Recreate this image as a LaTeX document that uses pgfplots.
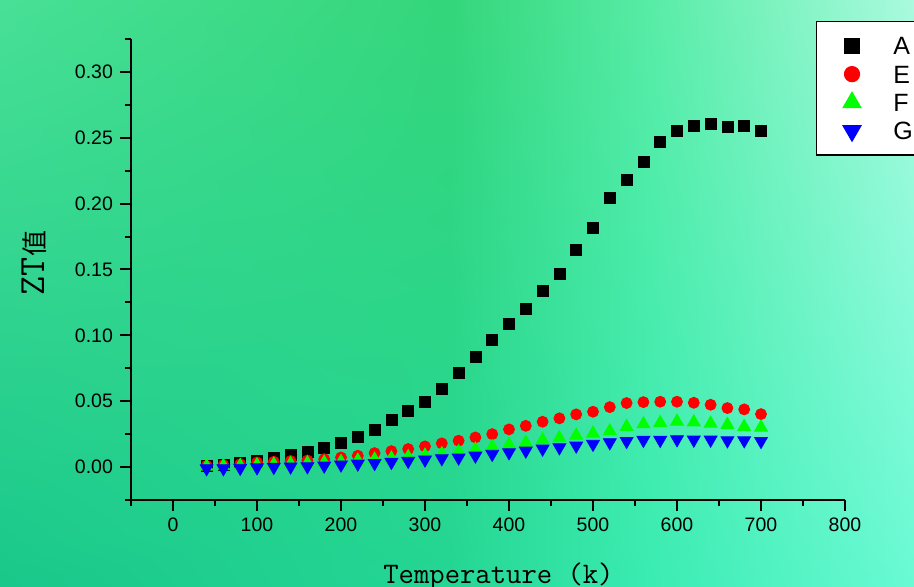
\documentclass[border=0pt]{standalone}
\usepackage{fontspec}
\setmainfont{Liberation Sans}
\newfontfamily\cjk{Noto Sans CJK SC}
\usepackage{pgfplots}
\usepackage{pgfplotstable}
\usetikzlibrary{shadings}
\pgfplotsset{compat=1.18}

\definecolor{bgUL}{RGB}{72,224,150}
\definecolor{bgUM}{RGB}{52,214,122}
\definecolor{bgUR1}{RGB}{88,236,166}
\definecolor{bgUR}{RGB}{170,250,222}
\definecolor{bgLL}{RGB}{25,200,138}
\definecolor{bgLM}{RGB}{36,214,148}
\definecolor{bgLR1}{RGB}{58,236,178}
\definecolor{bgLR}{RGB}{105,250,212}

\pgfplotstableread{
T   A       E       F       G
40  0.0010  0.0010  0.0005  -0.0010
60  0.0018  0.0015  0.0008  -0.0010
80  0.0030  0.0022  0.0010  -0.0007
100 0.0050  0.0035  0.0015  -0.0003
120 0.0066  0.0040  0.0020  0.0000
140 0.0089  0.0046  0.0025  0.0003
160 0.0116  0.0050  0.0030  0.0005
180 0.0147  0.0060  0.0035  0.0010
200 0.0187  0.0073  0.0040  0.0018
220 0.0230  0.0086  0.0050  0.0025
240 0.0283  0.0106  0.0058  0.0030
260 0.0359  0.0121  0.0067  0.0038
280 0.0425  0.0137  0.0077  0.0046
300 0.0496  0.0157  0.0088  0.0056
320 0.0592  0.0180  0.0100  0.0066
340 0.0718  0.0200  0.0115  0.0071
360 0.0840  0.0225  0.0134  0.0086
380 0.0962  0.0250  0.0154  0.0099
400 0.1085  0.0286  0.0170  0.0111
420 0.1198  0.0313  0.0185  0.0124
440 0.1334  0.0344  0.0205  0.0139
460 0.1466  0.0370  0.0220  0.0149
480 0.1649  0.0400  0.0240  0.0162
500 0.1818  0.0420  0.0255  0.0175
520 0.2045  0.0455  0.0273  0.0187
540 0.2178  0.0486  0.0306  0.0197
560 0.2320  0.0493  0.0326  0.0205
580 0.2470  0.0496  0.0336  0.0205
600 0.2550  0.0496  0.0346  0.0210
620 0.2590  0.0488  0.0341  0.0207
640 0.2608  0.0473  0.0331  0.0207
660 0.2580  0.0448  0.0321  0.0202
680 0.2590  0.0438  0.0306  0.0202
700 0.2550  0.0402  0.0301  0.0197
}\zt

\begin{document}
\begin{tikzpicture}
\useasboundingbox (0,0) rectangle (457pt,293.5pt);
\shade[upper left=bgUL, upper right=bgUM, lower left=bgLL, lower right=bgLM] (0,0) rectangle (225pt,293.5pt);
\shade[upper left=bgUM, upper right=bgUR1, lower left=bgLM, lower right=bgLR1] (225pt,0) rectangle (325pt,293.5pt);
\shade[upper left=bgUR1, upper right=bgUR, lower left=bgLR1, lower right=bgLR] (325pt,0) rectangle (457pt,293.5pt);
\clip (0,0) rectangle (457pt,293.5pt);
\begin{axis}[
  at={(65.5pt,43.5pt)}, anchor=south west,
  scale only axis, width=357pt, height=230.5pt,
  xmin=-50, xmax=800, ymin=-0.025, ymax=0.325,
  axis x line*=bottom, axis y line*=left,
  axis line style={line width=1pt, black},
  tick align=outside, major tick length=5.5pt, minor tick length=3pt,
  every tick/.style={black, line width=1pt},
  xtick={0,100,200,300,400,500,600,700,800},
  minor xtick={-50,50,150,250,350,450,550,650,750},
  ytick={0,0.05,0.1,0.15,0.2,0.25,0.3},
  minor ytick={-0.025,0.025,0.075,0.125,0.175,0.225,0.275,0.325},
  scaled y ticks=false,
  yticklabel style={/pgf/number format/.cd, fixed, fixed zerofill, precision=2, assume math mode=true},
  xticklabel style={/pgf/number format/assume math mode=true},
  ticklabel style={font=\fontsize{9.75}{11}\selectfont},
  clip=false,
  xlabel={\ttfamily\fontsize{14.9}{17}\selectfont Temperature (k)},
  xlabel style={at={(axis description cs:0.5147,-0.1822)}, anchor=base, inner sep=0pt},
  ylabel={{\ttfamily\fontsize{18.5}{20}\selectfont ZT}{\cjk\fontsize{13}{15}\selectfont 值}},
  ylabel style={at={(axis description cs:-0.1359,0.514)}, anchor=center, inner sep=0pt},
  legend cell align=left,
  legend image code/.code={\path (0pt,0pt) (37.6pt,0pt); \draw[#1] plot coordinates {(17.3pt,0pt)};},
  legend image post style={/tikz/every mark/.append style={scale=1.35}},
  legend style={at={(axis description cs:0.9594,1.0394)}, anchor=north west,
    draw=black, line width=0.7pt, fill=white, inner xsep=0pt, inner ysep=5pt,
    /tikz/column sep=0pt, /tikz/row sep=0pt,
    font=\fontsize{12.5}{14}\selectfont,
    nodes={inner sep=0pt, text height=11.6pt, text depth=2.6pt, text width=12pt}},
]
\addplot[only marks, mark=square*, color=black, mark size=2.75pt] table[x=T, y=A] {\zt};
\addlegendentry{A}
\addplot[only marks, mark=*, color=red, mark size=2.75pt] table[x=T, y=E] {\zt};
\addlegendentry{E}
\addplot[only marks, mark=triangle*, color=green, mark size=3.7pt] table[x=T, y=F] {\zt};
\addlegendentry{F}
\addplot[only marks, mark=triangle*, color=blue, mark size=3.7pt, mark options={rotate=180}] table[x=T, y=G] {\zt};
\addlegendentry{G}
\end{axis}
\end{tikzpicture}
\end{document}
